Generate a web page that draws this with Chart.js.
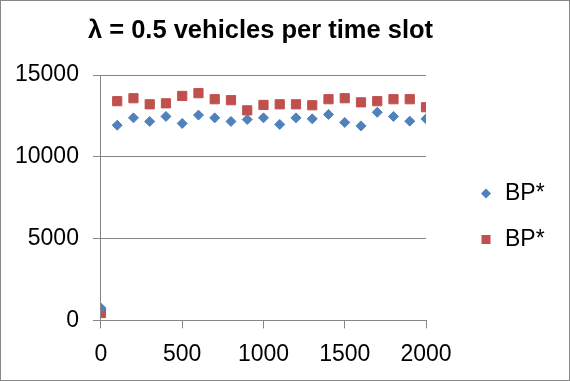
<!DOCTYPE html>
<html>
<head>
<meta charset="utf-8">
<script src="https://cdn.jsdelivr.net/npm/chart.js@4/dist/chart.umd.min.js"></script>
<style>
  html, body { margin: 0; padding: 0; background: #fff; }
  #wrap { width: 570px; height: 381px; box-sizing: border-box; border: 1px solid #888; position: relative; }
  canvas { display: block; }
</style>
</head>
<body>
<div id="wrap"><canvas id="c" width="568" height="379"></canvas></div>
<script>
const titleText = 'λ = 0.5 vehicles per time slot';
const seriesNames = ['BP*', 'BP*'];
const xValues = [0, 100, 200, 300, 400, 500, 600, 700, 800, 900, 1000, 1100, 1200, 1300, 1400, 1500, 1600, 1700, 1800, 1900, 2000];
const blueValues = [750, 11930, 12380, 12160, 12470, 12040, 12550, 12380, 12160, 12280, 12380, 11980, 12380, 12320, 12590, 12100, 11890, 12720, 12470, 12180, 12320];
const redValues = [450, 13400, 13580, 13210, 13270, 13720, 13890, 13520, 13460, 12840, 13170, 13210, 13210, 13150, 13520, 13580, 13330, 13400, 13520, 13520, 13030];
const xTicks = [0, 500, 1000, 1500, 2000];
const yTicks = [0, 5000, 10000, 15000];

const FONT = "'Liberation Sans', Arial, sans-serif";
const GRID = '#868686';

const toPts = (ys) => xValues.map((x, i) => ({ x: x, y: ys[i] }));

// Title centred over the plot area (as in the original), and legend at the right
const sideDecor = {
  id: 'sideDecor',
  afterDraw(chart) {
    const ctx = chart.ctx;
    const area = chart.chartArea;
    ctx.save();
    // title
    ctx.font = 'bold 25.5px ' + FONT;
    ctx.textBaseline = 'middle';
    ctx.textAlign = 'center';
    ctx.fillStyle = '#000';
    ctx.fillText(titleText, (area.left + area.right) / 2 - 3, 30);
    // legend
    ctx.font = '23px ' + FONT;
    ctx.textAlign = 'left';
    chart.data.datasets.forEach((ds, i) => {
      const cx = area.right + 60;
      const cy = 192.5 + i * 46;
      ctx.fillStyle = ds.backgroundColor;
      ctx.beginPath();
      if (ds.pointStyle === 'rectRot') {
        const r = 5;
        ctx.moveTo(cx, cy - r); ctx.lineTo(cx + r, cy); ctx.lineTo(cx, cy + r); ctx.lineTo(cx - r, cy);
        ctx.closePath();
      } else {
        const h = 4.5;
        ctx.rect(cx - h, cy - h, 2 * h, 2 * h);
      }
      ctx.fill();
      ctx.fillStyle = '#000';
      ctx.fillText(ds.label, cx + 19, cy);
    });
    ctx.restore();
  }
};

new Chart(document.getElementById('c'), {
  type: 'scatter',
  data: {
    datasets: [
      { label: seriesNames[0], data: toPts(blueValues), pointStyle: 'rectRot', pointRadius: 5, pointHoverRadius: 5,
        backgroundColor: '#4F81BD', borderColor: '#4F81BD', borderWidth: 1 },
      { label: seriesNames[1], data: toPts(redValues), pointStyle: 'rect', pointRadius: 6.5, pointHoverRadius: 6.5,
        backgroundColor: '#C0504D', borderColor: '#C0504D', borderWidth: 1 }
    ]
  },
  plugins: [sideDecor],
  options: {
    responsive: false,
    animation: false,
    events: [],
    layout: { padding: { left: 0, right: 143, top: 74, bottom: 0 } },
    plugins: {
      title: { display: false },
      legend: { display: false },
      tooltip: { enabled: false }
    },
    scales: {
      x: {
        type: 'linear', min: 0, max: 2000,
        afterBuildTicks: (ax) => { ax.ticks = xTicks.map(v => ({ value: v })); },
        ticks: { color: '#000', font: { family: FONT, size: 23 }, padding: 12, maxRotation: 0,
                 callback: (v) => String(v) },
        grid: { display: true, drawOnChartArea: false, drawTicks: true, tickLength: 8, color: GRID, lineWidth: 1 },
        border: { display: true, color: GRID, width: 1 }
      },
      y: {
        type: 'linear', min: 0, max: 15000,
        afterBuildTicks: (ax) => { ax.ticks = yTicks.map(v => ({ value: v })); },
        ticks: { color: '#000', font: { family: FONT, size: 23 }, padding: 14,
                 callback: (v) => String(v) },
        grid: { display: true, drawOnChartArea: true, drawTicks: true, tickLength: 8, color: GRID, lineWidth: 1 },
        border: { display: true, color: GRID, width: 1 }
      }
    }
  }
});
</script>
</body>
</html>
